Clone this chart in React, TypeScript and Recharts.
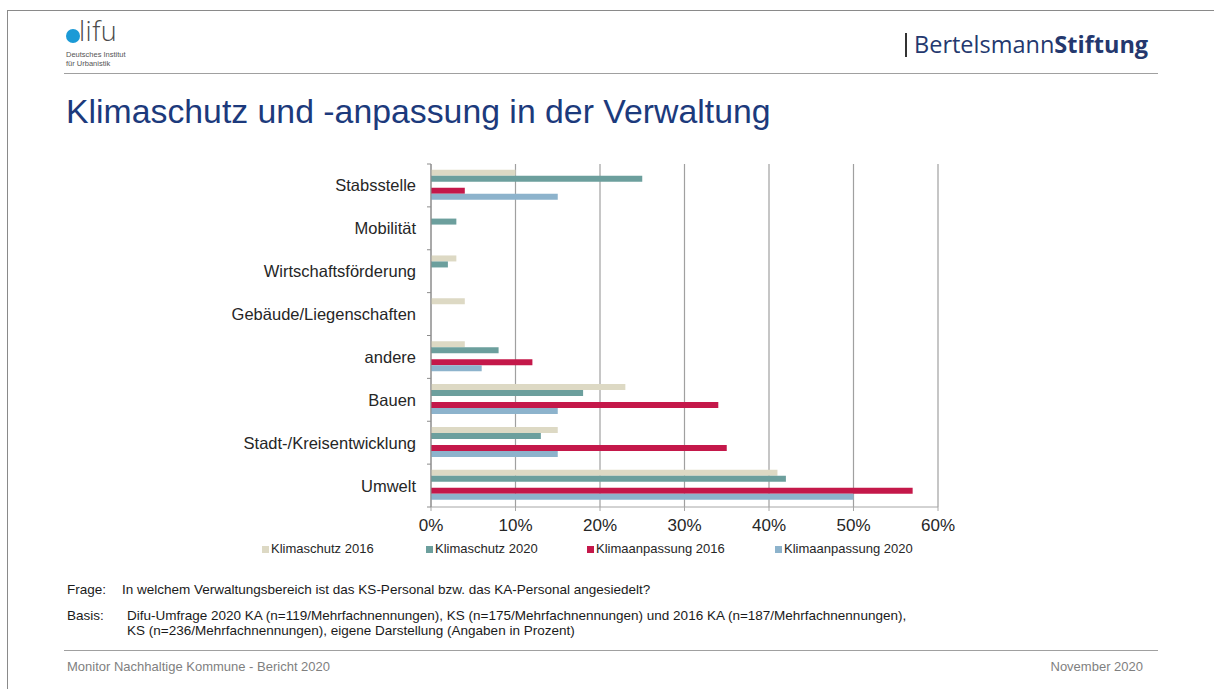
import { BarChart, Bar, XAxis, YAxis, CartesianGrid } from 'recharts'

const categories = [
  'Stabsstelle',
  'Mobilität',
  'Wirtschaftsförderung',
  'Gebäude/Liegenschaften',
  'andere',
  'Bauen',
  'Stadt-/Kreisentwicklung',
  'Umwelt',
]
const klimaschutz2016 = [10, 0, 3, 4, 4, 23, 15, 41]
const klimaschutz2020 = [25, 3, 2, 0, 8, 18, 13, 42]
const klimaanpassung2016 = [4, 0, 0, 0, 12, 34, 35, 57]
const klimaanpassung2020 = [15, 0, 0, 0, 6, 15, 15, 50]
const xTicks = [0, 10, 20, 30, 40, 50, 60]

const series = [
  { key: 'ks16', name: 'Klimaschutz 2016', color: '#ddd9c4' },
  { key: 'ks20', name: 'Klimaschutz 2020', color: '#6c9f9d' },
  { key: 'ka16', name: 'Klimaanpassung 2016', color: '#c4184a' },
  { key: 'ka20', name: 'Klimaanpassung 2020', color: '#8db3cc' },
]

const FONT = '"Liberation Sans", Arial, sans-serif'

const data = categories.map((name, i) => ({
  name,
  ks16: klimaschutz2016[i],
  ks20: klimaschutz2020[i],
  ka16: klimaanpassung2016[i],
  ka20: klimaanpassung2020[i],
}))

function CategoryTick(props: any) {
  const { x, y, payload, index } = props
  const half = payload?.offset ?? 21.5
  const last = index === categories.length - 1
  return (
    <g>
      <text x={x - 15} y={y} dy={6} textAnchor="end" fontSize={16.5} fill="#262626" fontFamily={FONT}>
        {payload.value}
      </text>
      <line x1={x - 4} x2={x} y1={y - half} y2={y - half} stroke="#8c8c8c" />
      {last && <line x1={x - 4} x2={x} y1={y + half} y2={y + half} stroke="#8c8c8c" />}
    </g>
  )
}

const note = { position: 'absolute' as const, fontSize: 13.5, color: '#1a1a1a', lineHeight: '15px', whiteSpace: 'nowrap' as const }

export default function App() {
  return (
    <div
      style={{
        position: 'absolute',
        left: 0,
        top: 0,
        width: 1214,
        height: 689,
        background: '#fff',
        fontFamily: FONT,
        overflow: 'hidden',
      }}
    >
      {/* page frame */}
      <div style={{ position: 'absolute', left: 7, top: 10, width: 1220, height: 700, borderLeft: '1.5px solid #8a8a8a', borderTop: '1.5px solid #8a8a8a' }} />

      {/* difu logo */}
      <div style={{ position: 'absolute', left: 66, top: 29, width: 14, height: 14, borderRadius: 7, background: '#1b9ad6' }} />
      <div style={{ position: 'absolute', left: 79, top: 16, fontSize: 27, color: '#4a4a4a', fontFamily: '"Open Sans", sans-serif', fontWeight: 300, lineHeight: '30px', letterSpacing: 0.5 }}>
        lifu
      </div>
      <div style={{ position: 'absolute', left: 66, top: 50, fontSize: 7.5, color: '#555', lineHeight: '9px' }}>
        Deutsches Institut
        <br />
        für Urbanistik
      </div>

      {/* Bertelsmann */}
      <div style={{ position: 'absolute', left: 905, top: 33, width: 2, height: 24, background: '#333' }} />
      <div style={{ position: 'absolute', left: 914, top: 29, fontSize: 23.5, color: '#24386e', fontFamily: '"Open Sans", sans-serif', lineHeight: '30px', whiteSpace: 'nowrap' }}>
        Bertelsmann<span style={{ fontWeight: 700 }}>Stiftung</span>
      </div>

      <div style={{ position: 'absolute', left: 64, top: 73, width: 1094, height: 1, background: '#a0a0a0' }} />

      {/* title */}
      <div style={{ position: 'absolute', left: 66, top: 92, fontSize: 33.8, color: '#1c3a7c', lineHeight: '38px', whiteSpace: 'nowrap' }}>
        Klimaschutz und -anpassung in der Verwaltung
      </div>

      {/* chart */}
      <div style={{ position: 'absolute', left: 0, top: 0 }}>
        <BarChart
          width={1214}
          height={540}
          data={data}
          layout="vertical"
          margin={{ top: 164, right: 276, bottom: 3, left: 0 }}
          barCategoryGap="13.3%"
          barGap={0}
        >
          <CartesianGrid horizontal={false} stroke="#a0a0a0" strokeWidth={1.2} />
          <XAxis
            type="number"
            domain={[0, 60]}
            ticks={xTicks}
            tickFormatter={(v: number) => `${v}%`}
            axisLine={{ stroke: '#a6a6a6' }}
            tickLine={{ stroke: '#a6a6a6' }}
            tickSize={4}
            tickMargin={8}
            height={30}
            tick={{ fontSize: 17, fill: '#262626', fontFamily: FONT }}
            allowDataOverflow
          />
          <YAxis
            type="category"
            dataKey="name"
            width={431}
            axisLine={{ stroke: '#8c8c8c' }}
            tickLine={false}
            tickSize={0}
            tickMargin={0}
            interval={0}
            tick={<CategoryTick />}
          />
          <Bar dataKey="ks16" fill={series[0].color} isAnimationActive={false} />
          <Bar dataKey="ks20" fill={series[1].color} isAnimationActive={false} />
          <Bar dataKey="gap" fill="none" isAnimationActive={false} />
          <Bar dataKey="ka16" fill={series[2].color} isAnimationActive={false} />
          <Bar dataKey="ka20" fill={series[3].color} isAnimationActive={false} />
        </BarChart>
      </div>

      {/* legend */}
      {series.map((s, i) => (
        <div
          key={s.key}
          style={{
            position: 'absolute',
            left: [262, 426, 587, 775][i],
            top: 541,
            fontSize: 13,
            color: '#262626',
            lineHeight: '16px',
            whiteSpace: 'nowrap',
            display: 'flex',
            alignItems: 'center',
          }}
        >
          <span style={{ display: 'inline-block', width: 7, height: 7, background: s.color, marginRight: 2 }} />
          {s.name}
        </div>
      ))}

      {/* notes */}
      <div style={{ ...note, left: 67, top: 582 }}>Frage:</div>
      <div style={{ ...note, left: 122, top: 582 }}>
        In welchem Verwaltungsbereich ist das KS-Personal bzw. das KA-Personal angesiedelt?
      </div>
      <div style={{ ...note, left: 67, top: 608 }}>Basis:</div>
      <div style={{ ...note, left: 127, top: 608 }}>
        Difu-Umfrage 2020 KA (n=119/Mehrfachnennungen), KS (n=175/Mehrfachnennungen) und 2016 KA (n=187/Mehrfachnennungen),
        <br />
        KS (n=236/Mehrfachnennungen), eigene Darstellung (Angaben in Prozent)
      </div>

      {/* footer */}
      <div style={{ position: 'absolute', left: 64, top: 650, width: 1094, height: 1, background: '#a0a0a0' }} />
      <div style={{ position: 'absolute', left: 67, top: 659, fontSize: 13, color: '#7f7f7f', lineHeight: '16px', whiteSpace: 'nowrap' }}>
        Monitor Nachhaltige Kommune - Bericht 2020
      </div>
      <div style={{ position: 'absolute', right: 71, top: 659, fontSize: 13, color: '#7f7f7f', lineHeight: '16px', whiteSpace: 'nowrap' }}>
        November 2020
      </div>
    </div>
  )
}
